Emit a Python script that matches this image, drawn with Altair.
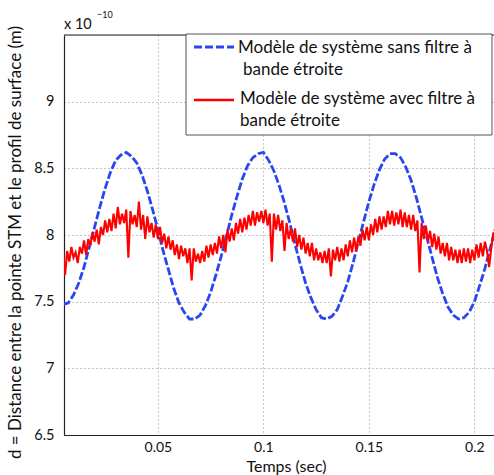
import altair as alt
import pandas as pd

FONT = "Lato"
BLUE = "#2a46f2"
RED = "#ff0000"
W, H = 430, 400

# Time sampling of the two series (s)
blue_start, blue_step = 0.005, 0.0025
red_start, red_step = 0.005, 0.001

# Blue: system model without narrow-band filter (x 1e-10 m)
blue_values = [
    7.48, 7.49, 7.55, 7.64, 7.76, 7.91, 8.06, 8.21, 8.35, 8.47,
    8.56, 8.60, 8.62, 8.59, 8.54, 8.45, 8.33, 8.19, 8.04, 7.88,
    7.74, 7.60, 7.49, 7.42, 7.37, 7.37, 7.40, 7.47, 7.57, 7.70,
    7.84, 7.99, 8.15, 8.29, 8.42, 8.52, 8.58, 8.61, 8.62, 8.56,
    8.48, 8.37, 8.24, 8.09, 7.93, 7.78, 7.64, 7.53, 7.44, 7.38,
    7.37, 7.39, 7.44, 7.54, 7.65, 7.79, 7.95, 8.10, 8.25, 8.38,
    8.49, 8.57, 8.61, 8.61, 8.58, 8.51, 8.41, 8.28, 8.13, 7.98,
    7.83, 7.68, 7.56, 7.46, 7.40, 7.37, 7.38, 7.42, 7.50, 7.62,
    7.75, 7.90, 8.05,
]

# Red: system model with narrow-band filter (x 1e-10 m)
red_values = [
    7.89, 7.70, 7.88, 7.80, 7.91, 7.83, 7.87, 7.79, 7.91, 7.86,
    7.96, 7.85, 7.97, 7.92, 8.02, 7.95, 8.04, 7.93, 8.06, 8.00,
    8.11, 8.02, 8.12, 8.03, 8.16, 8.05, 8.21, 8.08, 8.16, 8.09,
    8.19, 7.83, 8.18, 8.08, 8.15, 8.06, 8.25, 8.04, 8.15, 7.97,
    8.14, 8.02, 8.09, 7.98, 8.08, 7.97, 8.06, 7.94, 8.01, 7.90,
    7.99, 7.89, 7.96, 7.85, 7.93, 7.82, 7.92, 7.84, 7.90, 7.79,
    7.90, 7.66, 7.90, 7.80, 7.86, 7.79, 7.88, 7.80, 7.92, 7.83,
    7.93, 7.85, 7.94, 7.86, 7.99, 7.90, 8.00, 7.87, 8.04, 7.95,
    8.05, 7.96, 8.09, 8.01, 8.12, 8.02, 8.13, 8.04, 8.15, 8.07,
    8.18, 8.07, 8.17, 8.10, 8.18, 8.09, 8.19, 8.07, 8.16, 7.80,
    8.16, 8.04, 8.15, 8.03, 8.11, 7.88, 8.09, 7.97, 8.05, 7.95,
    8.05, 7.91, 8.00, 7.89, 7.98, 7.86, 7.94, 7.84, 7.94, 7.81,
    7.90, 7.81, 7.87, 7.79, 7.88, 7.79, 7.90, 7.69, 7.89, 7.81,
    7.91, 7.80, 7.90, 7.81, 7.93, 7.84, 7.96, 7.87, 7.98, 7.88,
    7.99, 7.92, 8.04, 7.96, 8.06, 7.96, 8.08, 8.00, 8.12, 8.02,
    8.14, 8.04, 8.14, 8.06, 8.18, 8.08, 8.18, 8.07, 8.17, 8.08,
    8.19, 8.06, 8.17, 8.06, 8.15, 8.04, 8.15, 8.03, 8.11, 7.72,
    8.09, 7.97, 8.07, 7.95, 8.03, 7.91, 8.01, 7.89, 7.99, 7.86,
    7.94, 7.84, 7.94, 7.81, 7.91, 7.81, 7.89, 7.79, 7.89, 7.79,
    7.90, 7.80, 7.90, 7.79, 7.89, 7.81, 7.93, 7.83, 7.94, 7.84,
    7.95, 7.88, 7.76, 7.90, 8.02, 7.94,
]

x_ticks = [0.05, 0.1, 0.15, 0.2]
y_ticks = [6.5, 7, 7.5, 8, 8.5, 9]
x_title = "Temps (sec)"
y_title = "d = Distance entre la pointe STM et le profil de surface (m)"
legend_blue = ["Modèle de système sans filtre à", "bande étroite"]
legend_red = ["Modèle de système avec filtre à", "bande étroite"]

blue_df = pd.DataFrame({
    "t": [round(blue_start + blue_step * i, 5) for i in range(len(blue_values))],
    "d": blue_values,
})
red_df = pd.DataFrame({
    "t": [round(red_start + red_step * i, 5) for i in range(len(red_values))],
    "d": red_values,
})
ann = pd.DataFrame({"k": [0]})

xscale = alt.Scale(domain=[0.0055, 0.2093], nice=False, zero=False)
yscale = alt.Scale(domain=[6.5, 9.5], nice=False, zero=False)

xaxis = alt.Axis(
    values=x_ticks, format="~g", grid=True, gridDash=[1, 3], gridColor="#8c8c8c",
    gridWidth=1, ticks=False, domainColor="#222222", domainWidth=1.2,
    labelFont=FONT, labelFontSize=14, labelColor="#111111", labelPadding=5,
    title=x_title, titleFont=FONT, titleFontSize=16, titleFontWeight="normal",
    titleColor="#111111", titleX=222, titleY=31, titleAlign="center",
    titleBaseline="middle",
)
yaxis = alt.Axis(
    values=y_ticks, format="~g", grid=True, gridDash=[1, 3], gridColor="#8c8c8c",
    gridWidth=1, ticks=False, domainColor="#222222", domainWidth=1.2,
    labelFont=FONT, labelFontSize=14.5, labelColor="#111111", labelPadding=10,
    title=y_title, titleFont=FONT, titleFontSize=17, titleFontWeight="normal",
    titleColor="#111111", titleX=-49, titleY=207, titleAngle=270,
    titleAlign="center", titleBaseline="middle",
)

blue = alt.Chart(blue_df).mark_line(
    color=BLUE, strokeWidth=2.8, strokeDash=[8, 2.5], clip=True
).encode(
    x=alt.X("t:Q", scale=xscale, axis=xaxis),
    y=alt.Y("d:Q", scale=yscale, axis=yaxis),
)
red = alt.Chart(red_df).mark_line(
    color=RED, strokeWidth=2.1, clip=True
).encode(
    x=alt.X("t:Q", scale=xscale, axis=xaxis),
    y=alt.Y("d:Q", scale=yscale, axis=yaxis),
)

top_rule = alt.Chart(ann).mark_rule(color="#222222", strokeWidth=1.2).encode(
    x=alt.value(0), x2=alt.value(W), y=alt.value(0)
)

legend_box = alt.Chart(ann).mark_rect(
    fill="white", stroke="#555555", strokeWidth=1
).encode(x=alt.value(122), x2=alt.value(428), y=alt.value(-1), y2=alt.value(100))

leg_blue_line = alt.Chart(ann).mark_rule(
    color=BLUE, strokeWidth=2.8, strokeDash=[8, 3]
).encode(x=alt.value(130), x2=alt.value(170), y=alt.value(12))
leg_red_line = alt.Chart(ann).mark_rule(color=RED, strokeWidth=2.4).encode(
    x=alt.value(130), x2=alt.value(170), y=alt.value(65)
)


def txt(s, x, y, size=17, baseline="middle"):
    return alt.Chart(ann).mark_text(
        text=s, align="left", baseline=baseline, font=FONT, fontSize=size,
        color="#111111"
    ).encode(x=alt.value(x), y=alt.value(y))


texts = [
    txt(legend_blue[0], 174, 13),
    txt(legend_blue[1], 179, 35),
    txt(legend_red[0], 176, 64),
    txt(legend_red[1], 176, 86),
    txt("x 10", 0, -6, size=14.5, baseline="alphabetic"),
    txt("\u221210", 33, -17, size=9, baseline="alphabetic"),
]

chart = alt.layer(
    blue, red, top_rule, legend_box, leg_blue_line, leg_red_line, *texts
).properties(
    width=W, height=H,
    padding={"left": 64, "top": 35, "right": 0, "bottom": 40},
    autosize=alt.AutoSizeParams(type="none"),
).configure_view(stroke=None).configure(background="white")

chart.save("out.html", embed_options={"renderer": "svg", "actions": False})
